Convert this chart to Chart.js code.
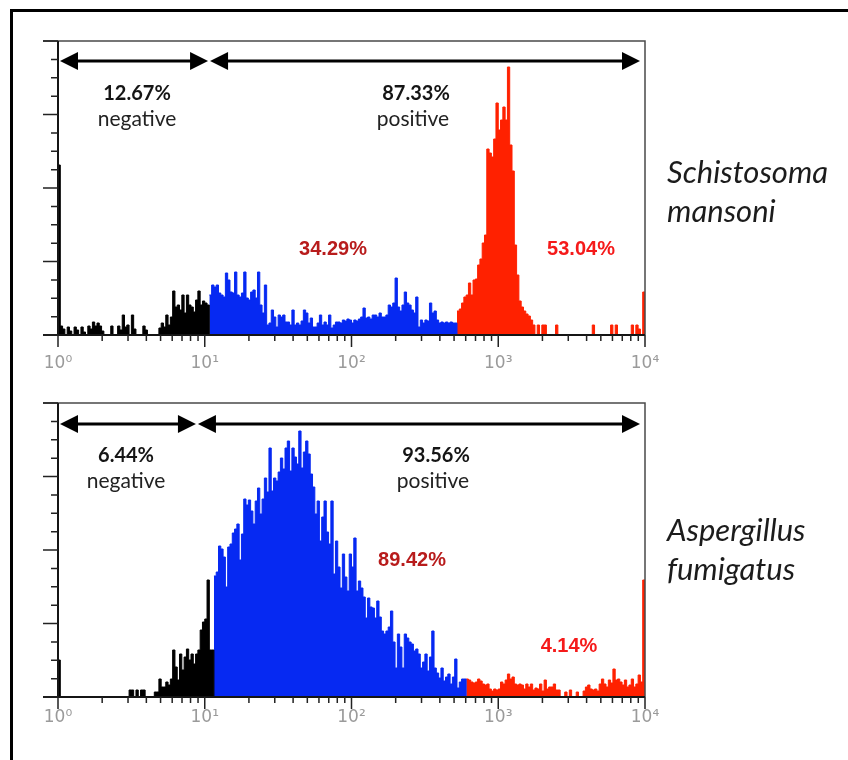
<!DOCTYPE html>
<html>
<head>
<meta charset="utf-8">
<script src="https://cdn.jsdelivr.net/npm/chart.js@4.4.1/dist/chart.umd.min.js"></script>
<style>
  html, body { margin: 0; padding: 0; background: #fff; }
  body { width: 848px; height: 760px; position: relative; overflow: hidden; }
  .frame { position: absolute; left: 10px; top: 9px; width: 900px; height: 800px;
           border-top: 3px solid #000; border-left: 3px solid #000; }
  canvas { position: absolute; left: 0; }
  .species { position: absolute; left: 667px; font-family: Lato, "Open Sans", sans-serif;
             font-style: italic; font-size: 31px; line-height: 39px; color: #1c1c1c; }
</style>
</head>
<body>
<div class="frame"></div>
<canvas id="smChart" width="848" height="380" style="top:0"></canvas>
<canvas id="afChart" width="848" height="380" style="top:380px"></canvas>
<div class="species" style="top:152px">Schistosoma<br>mansoni</div>
<div class="species" style="top:510px">Aspergillus<br>fumigatus</div>

<script>
// x axis: 256 channels over four log decades
const decadeValues = [1, 10, 100, 1000, 10000];
const decadeLabels = ['10⁰', '10¹', '10²', '10³', '10⁴'];
const channelCount = 256;
const yMax = 294;

// Schistosoma mansoni - counts per channel, split by colour region
const smBlack = [170,9,6,0,8,4,0,8,5,0, 8,3,0,9,6,13,9,12,9,4, 0,0,0,9,0,0,9,5,20,8,
  10,0,20,6,0,0,0,9,5,0, 0,0,0,0,7,12,8,20,10,18, 44,28,30,25,40,22,40,30,28,23,
  35,44,30,34,32,30];
const smBlue = [40,50,48,50,42,40,38,62,55,43, 42,63,40,38,42,63,37,35,43,45,
  37,63,30,22,50,10,12,25,18,8, 20,18,20,13,13,10,25,10,12,10, 14,25,22,12,17,8,8,12,20,10,
  13,10,20,7,10,13,13,12,15,14, 16,15,12,15,14,16,18,27,17,18, 16,20,20,18,22,18,18,20,30,28,
  32,57,28,24,30,43,32,30,25,22, 38,8,15,12,15,14,32,22,24,15, 12,13,12,13,12,13,12,12];
const smRed = [24,26,32,38,40,52,40,55,56,70, 76,92,100,186,182,178,196,232,205,215,
  228,215,268,190,164,90,60,34,28,24, 21,19,15,10,0,10,0,10,10,0, 0,0,0,10,0,0,0,0,0,0,
  0,0,0,0,0,0,0,0,0,10, 0,0,0,0,0,0,0,10,0,10, 0,0,0,0,0,0,10,0,10,6, 0,43];
const smGate = 10.7;
const smLabels = ['12.67%', 'negative', '87.33%', 'positive', '34.29%', '53.04%'];

// Aspergillus fumigatus
const afBlack = [37,0,0,0,0,0,0,0,0,0, 0,0,0,0,0,0,0,0,0,0, 0,0,0,0,0,0,0,0,0,0,
  0,7,7,0,7,0,7,7,0,0, 0,0,5,5,18,10,10,15,12,18, 47,30,17,43,27,40,48,37,43,33,
  43,47,67,75,78,117,47,47];
const afBlue = [121,125,151,148,140,110,150,153,164,168, 173,137,163,198,192,197,186,173,196,209,
  183,198,219,205,249,206,219,216,225,239, 228,249,256,226,249,240,233,266,229,245,
  256,243,223,210,183,196,156,180,196,165, 153,196,123,156,130,109,143,120,106,143,
  130,159,106,116,109,100,79,99,90,89, 79,96,80,66,63,66,70,86,55,29,
  63,50,29,63,59,55,53,46,48,43, 29,35,43,26,40,66,29,24,19,29, 16,20,23,13,20,38,9,15,18,18];
const afRed = [18,17,15,14,15,18,16,13,12,13, 8,6,8,7,8,15,13,17,23,18,
  20,13,12,13,12,8,13,10,13,7, 9,8,13,6,17,8,10,10,13,7, 7,0,0,5,0,7,0,0,5,0,
  0,6,10,12,8,7,8,6,13,18, 13,10,17,14,28,17,18,15,12,17, 10,12,18,10,13,22,15,117];
const afGate = 8.85;
const afLabels = ['6.44%', 'negative', '93.56%', 'positive', '89.42%', '4.14%'];

const histColors = ['#000000', '#0629f2', '#ff2100'];

function histDatasets(parts) {
  let start = 0;
  return parts.map((vals, k) => {
    const pts = vals.map((v, i) => ({x: start + i, y: v}));
    pts.push({x: start + vals.length, y: 0});
    start += vals.length;
    return {
      data: pts, xAxisID: 'ch', yAxisID: 'y',
      stepped: 'before', fill: 'origin', tension: 0,
      backgroundColor: histColors[k], borderColor: histColors[k], borderWidth: 1,
      pointRadius: 0, pointHoverRadius: 0
    };
  });
}

function drawArrow(ctx, x1, x2, y) {
  const hl = 18, hw = 9;
  ctx.beginPath(); ctx.moveTo(x1 + hl - 2, y); ctx.lineTo(x2 - hl + 2, y); ctx.stroke();
  ctx.beginPath(); ctx.moveTo(x1, y); ctx.lineTo(x1 + hl, y - hw); ctx.lineTo(x1 + hl, y + hw); ctx.closePath(); ctx.fill();
  ctx.beginPath(); ctx.moveTo(x2, y); ctx.lineTo(x2 - hl, y - hw); ctx.lineTo(x2 - hl, y + hw); ctx.closePath(); ctx.fill();
}

const fcsAxes = {
  id: 'fcsAxes',
  afterDraw(chart, args, opts) {
    const {ctx, chartArea: a, scales} = chart;
    const x = scales.x, y = scales.y;
    ctx.save();
    // frame around plot
    ctx.strokeStyle = '#4a4a4a'; ctx.lineWidth = 1.5;
    ctx.beginPath(); ctx.moveTo(a.left - 15, a.top); ctx.lineTo(a.right, a.top); ctx.lineTo(a.right, a.bottom); ctx.stroke();
    // axis lines
    ctx.strokeStyle = '#151515'; ctx.lineWidth = 2;
    ctx.beginPath();
    ctx.moveTo(a.left, a.top); ctx.lineTo(a.left, a.bottom);
    ctx.moveTo(a.left - 15, a.bottom); ctx.lineTo(a.right, a.bottom);
    ctx.stroke();
    // y ticks, 4 minor per major
    ctx.lineWidth = 1.5; ctx.strokeStyle = '#222';
    ctx.beginPath();
    for (let k = 0; k <= 16; k++) {
      const py = y.getPixelForValue(yMax * k / 16);
      const len = k % 4 === 0 ? 15 : 7;
      ctx.moveTo(a.left - len, py); ctx.lineTo(a.left, py);
    }
    // x ticks, log minor
    for (let d = 0; d < 4; d++) {
      for (let m = 1; m <= 9; m++) {
        const px = x.getPixelForValue(m * decadeValues[d]);
        ctx.moveTo(px, a.bottom); ctx.lineTo(px, a.bottom + (m === 1 ? 12 : 6));
      }
    }
    const pEnd = x.getPixelForValue(decadeValues[4]);
    ctx.moveTo(pEnd, a.bottom); ctx.lineTo(pEnd, a.bottom + 12);
    ctx.stroke();

    // gate arrows
    const gx = x.getPixelForValue(opts.gate);
    ctx.fillStyle = '#000'; ctx.strokeStyle = '#000'; ctx.lineWidth = 3;
    drawArrow(ctx, x.getPixelForValue(decadeValues[0]) + 2, gx - 1, opts.arrowY);
    drawArrow(ctx, gx + 1, pEnd - 5, opts.arrowY);

    // percentages
    ctx.textAlign = 'center'; ctx.textBaseline = 'middle';
    opts.notes.forEach(n => {
      ctx.font = n.font; ctx.fillStyle = n.color;
      ctx.fillText(n.text, n.x, n.y);
    });
    ctx.restore();
  }
};

const pctFont = 'bold 20px Lato, sans-serif';
const wordFont = '21px Lato, sans-serif';
const redFont = 'bold 20px "Liberation Sans", Arial, sans-serif';

function makeChart(id, parts, gate, labels, pos) {
  new Chart(document.getElementById(id), {
    type: 'line',
    data: {datasets: histDatasets(parts)},
    options: {
      responsive: false, animation: false, events: [],
      layout: {padding: {left: 58, right: 203, top: pos.top, bottom: 0}},
      plugins: {
        legend: {display: false}, tooltip: {enabled: false},
        fcsAxes: {
          gate: gate, arrowY: pos.arrowY,
          notes: [
            {text: labels[0], x: pos.neg, y: pos.pctY, font: pctFont, color: '#151515'},
            {text: labels[1], x: pos.neg, y: pos.wordY, font: wordFont, color: '#222'},
            {text: labels[2], x: pos.pos, y: pos.pctY, font: pctFont, color: '#151515'},
            {text: labels[3], x: pos.pos - 3, y: pos.wordY, font: wordFont, color: '#222'},
            {text: labels[4], x: pos.blue[0], y: pos.blue[1], font: redFont, color: '#b81c1c'},
            {text: labels[5], x: pos.red[0], y: pos.red[1], font: redFont, color: '#f51a1a'}
          ]
        }
      },
      scales: {
        ch: {type: 'linear', position: 'bottom', display: false, min: 0, max: channelCount},
        x: {
          type: 'logarithmic', position: 'bottom', min: 1, max: 10000,
          grid: {display: false, drawTicks: false}, border: {display: false},
          afterBuildTicks: s => { s.ticks = decadeValues.map(v => ({value: v})); },
          ticks: {
            autoSkip: false, maxRotation: 0, padding: pos.labelPad, color: '#9a9a9a',
            font: {family: 'DejaVu Sans', size: 17},
            callback: (v, i) => decadeLabels[i]
          },
          afterFit: s => { s.height = pos.axisH; }
        },
        y: {
          min: 0, max: yMax,
          ticks: {display: false}, grid: {display: false, drawTicks: false}, border: {display: false},
          afterFit: s => { s.width = 0; }
        }
      }
    },
    plugins: [fcsAxes]
  });
}

makeChart('smChart', [smBlack, smBlue, smRed], smGate, smLabels,
  {top: 41, axisH: 45, labelPad: 18, arrowY: 61, pctY: 94, wordY: 119, neg: 137, pos: 416,
   blue: [333, 249], red: [581, 249]});
makeChart('afChart', [afBlack, afBlue, afRed], afGate, afLabels,
  {top: 23, axisH: 63, labelPad: 10, arrowY: 44, pctY: 76, wordY: 101, neg: 126, pos: 436,
   blue: [412, 180], red: [569, 266]});
</script>
</body>
</html>
